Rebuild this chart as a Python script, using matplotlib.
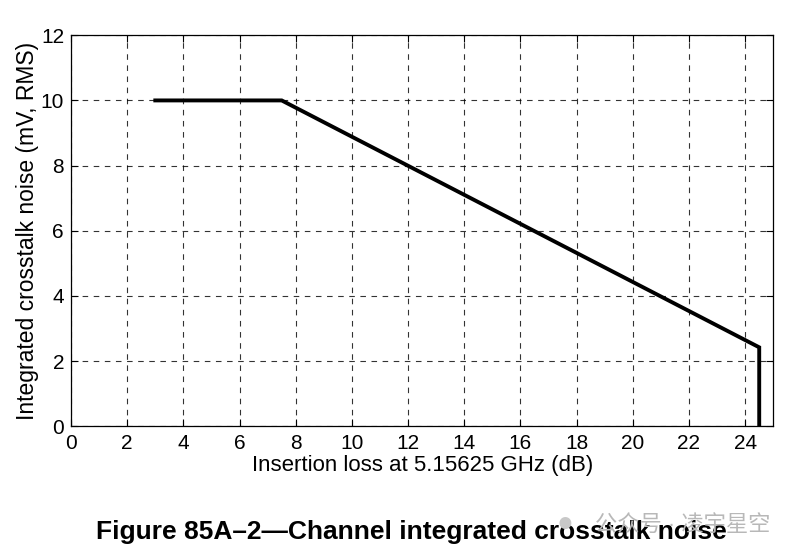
import matplotlib
matplotlib.use('Agg')
import matplotlib.pyplot as plt

plt.rcParams['font.family'] = ['Liberation Sans', 'Noto Sans CJK SC', 'DejaVu Sans']

# 曲线的拐点
loss_db = [3, 7.5, 24.5, 24.5]
noise_mv = [10, 10, 2.42, 0]

x_ticks = list(range(0, 25, 2))
y_ticks = list(range(0, 13, 2))

fig = plt.figure(figsize=(7.98, 5.60), dpi=100)
ax = fig.add_axes([0.089, 0.239, 0.880, 0.698])

ax.plot(loss_db, noise_mv, color='black', linewidth=2.8, solid_joinstyle='miter')
ax.set_xlim(0, 25)
ax.set_ylim(0, 12)
ax.set_xticks(x_ticks)
ax.set_yticks(y_ticks)
ax.grid(True, color='black', linestyle=(0, (5, 5)), linewidth=0.8, alpha=0.8)
ax.tick_params(direction='in', top=True, right=True, labelsize=15, length=5)
ax.tick_params(axis='x', pad=6)
ax.tick_params(axis='y', pad=5)
for s in ax.spines.values():
    s.set_linewidth(0.9)

ax.set_xlabel('Insertion loss at 5.15625 GHz (dB)', fontsize=16, labelpad=1)
ax.set_ylabel('Integrated crosstalk noise (mV, RMS)', fontsize=16.5, labelpad=1)

fig.text(0.516, 0.05, 'Figure 85A\u20132\u2014Channel integrated crosstalk noise',
         ha='center', va='center', fontsize=19, fontweight='bold')
# 水印
fig.text(0.698, 0.064, '\u25cf', ha='left', va='center',
         fontsize=20, color='#c8c8c8')
fig.text(0.745, 0.062, '公众号 · 凌宇星空', ha='left', va='center',
         fontsize=16, color='#b8b8b8')

fig.savefig('out.png', dpi=100)
